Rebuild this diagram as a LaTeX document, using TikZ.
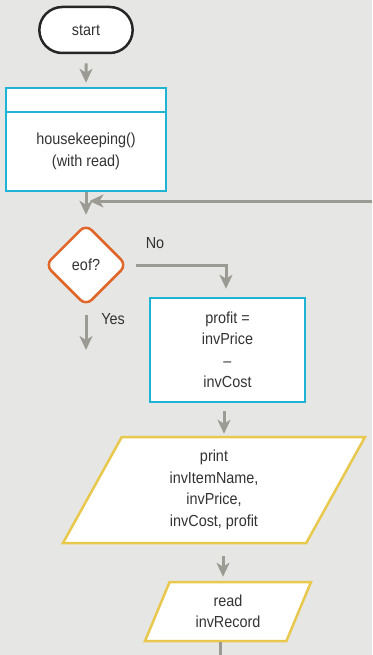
\documentclass[tikz,border=0pt]{standalone}
\usepackage{fontspec}
\setmainfont{Liberation Sans}[FakeStretch=0.9]
\usepackage{xcolor}
\usepackage{tikz}
\usetikzlibrary{positioning,shapes.geometric,shapes.misc,arrows.meta}

\definecolor{bgGray}{HTML}{E6E6E4}
\definecolor{lineGray}{HTML}{9B9B93}
\definecolor{procCyan}{HTML}{1FB3D5}
\definecolor{decOrange}{HTML}{E0662A}
\definecolor{ioYellow}{HTML}{E9C84E}
\definecolor{txtGray}{HTML}{333333}

\begin{document}
\begin{tikzpicture}[x=1pt, y=-1pt, font=\fontsize{16}{21.5}\selectfont, text=txtGray]
                \tikzstyle{term} = [rounded rectangle, minimum width=100pt, minimum height=46pt, text centered, draw=black!85, line width=2.5pt, fill=white]
                \tikzstyle{process} = [rectangle, text centered, align=center, draw=procCyan, line width=2.5pt, fill=white]
                \tikzstyle{decision} = [diamond, minimum size=82pt, rounded corners=8pt, inner sep=0pt, text centered, draw=decOrange, line width=2.5pt, fill=white]
                \tikzstyle{io} = [trapezium, trapezium left angle=53.5, trapezium right angle=126.5, trapezium stretches body, inner sep=0pt, align=center, draw=ioYellow, line width=2.5pt, fill=white]
                \tikzstyle{arrow} = [draw=lineGray, line width=3pt, -{Stealth[length=14pt,width=13pt,inset=4pt]}]
                \tikzstyle{link} = [draw=lineGray, line width=3pt]

                % background and page size
                \fill [bgGray] (0,0) rectangle (372,655);
                \useasboundingbox (0,0) rectangle (372,655);

                \node (start) [term] at (86,30) {start};
                \node (hkHead) [process, minimum width=160pt, minimum height=24pt] at (86,100) {};
                \node (house) [process, minimum width=160pt, minimum height=79pt, below=-2.5pt of hkHead] {housekeeping()\\(with read)};
                \node (eof) [decision] at (86,265) {eof?};
                \node (profit) [process, minimum width=155pt, minimum height=104pt] at (227.5,350) {profit =\\invPrice\\–\\invCost};
                \node (prnt) [io, minimum width=302pt, minimum height=106pt] at (214,490) {print\\invItemName,\\invPrice,\\invCost, profit};
                \node (rd) [io, minimum width=166pt, minimum height=59pt] at (228,611.5) {read\\invRecord};

                \node (noLbl) at (155,243) {No};
                \node (yesLbl) at (113,319) {Yes};

                \coordinate (loopIn) at (372,201);
                \coordinate (yesEnd) at (86,350);
                \coordinate (rdOut) at (220,660);

                \draw [arrow, shorten <=9pt, shorten >=4pt] (start) -- (hkHead);
                \draw [arrow, shorten >=8pt] (house) -- (eof);
                \draw [arrow, shorten >=3.5pt] (loopIn) -- (loopIn -| house.south);
                \draw [arrow, shorten <=8pt, shorten >=8pt] (eof.east) -| ([xshift=-1.5pt]profit.north);
                \draw [arrow, shorten <=8pt] (eof.south) -- (yesEnd);
                \draw [arrow, shorten <=8pt, shorten >=2pt] ([xshift=-3.5pt]profit.south) -- ([xshift=-3.5pt]profit.south |- prnt.north);
                \draw [arrow, shorten <=12pt, shorten >=4pt] (prnt.south -| 223,0) -- (rd.north -| 223,0);
                \draw [link] (rd.south -| 220,0) -- (rdOut);
            \end{tikzpicture}
\end{document}
